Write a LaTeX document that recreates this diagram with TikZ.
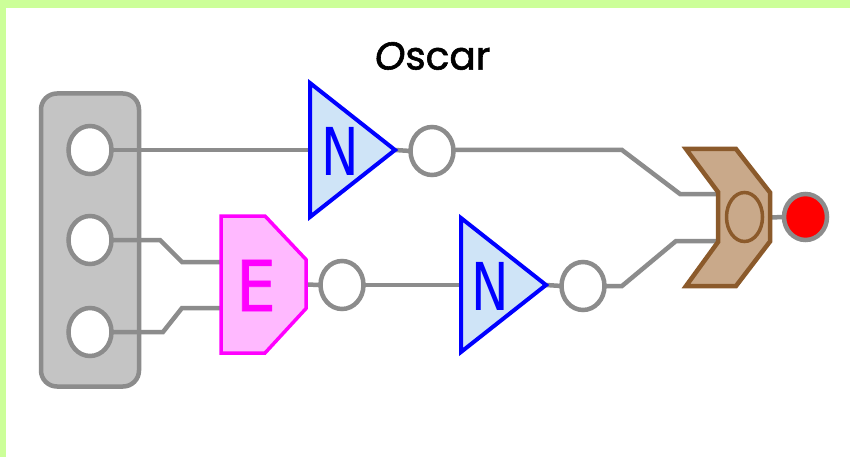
\documentclass[tikz,border=0pt]{standalone}
\usepackage{fontspec}
\usepackage{graphicx}
\setmainfont{DejaVu Sans}
\newfontfamily\titlefont[FakeBold=1.5]{Poppins}
\newfontfamily\gatefont[FakeBold=1]{DejaVu Sans}
\usetikzlibrary{shapes.geometric,calc}
\definecolor{bordergreen}{HTML}{CCFF99}
\definecolor{wiregray}{HTML}{8C8C8C}
\definecolor{panelgray}{HTML}{C4C4C4}
\definecolor{notfill}{HTML}{CFE4F7}
\definecolor{andfill}{HTML}{FFB9FF}
\definecolor{andline}{HTML}{FF00FF}
\definecolor{orfill}{HTML}{C9A98A}
\definecolor{orline}{HTML}{8B5A2B}
\tikzset{
  wire/.style={draw=wiregray,line width=4.5pt,line join=miter},
  port/.style={ellipse,draw=wiregray,line width=4.5pt,fill=white,inner sep=0pt,outer sep=0pt,minimum width=43pt,minimum height=48pt},
  gatebox/.style={rectangle,inner sep=0pt,outer sep=0pt},
  notgate/.style={draw=blue,fill=notfill,line width=4pt,line join=miter},
  andgate/.style={draw=andline,fill=andfill,line width=3.5pt,line join=miter},
  orgate/.style={draw=orline,fill=orfill,line width=4.5pt,line join=miter},
  gatelabel/.style={inner sep=0pt,outer sep=0pt}
}
\begin{document}
\begin{tikzpicture}[x=1pt,y=-1pt]
\useasboundingbox (0,0) rectangle (850,457);
\fill[white] (0,0) rectangle (850,457);
\fill[bordergreen] (0,0) rectangle (850,8);
\fill[bordergreen] (0,0) rectangle (6,457);
% panel
\node[rectangle,rounded corners=16pt,draw=wiregray,fill=panelgray,line width=4.5pt,inner sep=0pt,outer sep=0pt,minimum width=98pt,minimum height=293pt] (panel) at (90,240) {};
% node boxes
\node[gatebox,minimum width=85pt,minimum height=134pt] (n1) at (352.5,150) {};
\node[gatebox,minimum width=85pt,minimum height=134pt] (n2) at (503.5,285) {};
\node[gatebox,minimum width=85pt,minimum height=137pt] (e1) at (263.5,284.5) {};
\node[gatebox,minimum width=84pt,minimum height=137pt] (o1) at (728,217.5) {};
\coordinate (oin1) at (720,194);
\coordinate (oin2) at (720,241);
\coordinate (ein1) at (222,262);
\coordinate (ein2) at (222,308);
% ports
\node[port] (p1) at (90,150) {};
\node[port] (p2) at (90,240) {};
\node[port] (p3) at (90,332) {};
\node[port] (c1) at (432,151) {};
\node[port] (c2) at (342,285) {};
\node[port] (c3) at (583,286) {};
\node[port,fill=red,minimum width=43pt,minimum height=46pt] (out) at (805.5,217) {};
% wires
\draw[wire] (p1.east) -- (n1.west);
\draw[wire] (n1.east) -- (c1.west);
\draw[wire] (c1.east |- 0,150) -- (622,150) -- (680,194) -- (oin1);
\draw[wire] (p2.east) -- (160,240) -- (182,262) -- (ein1);
\draw[wire] (p3.east) -- (163,332) -- (182,308) -- (ein2);
\draw[wire] (e1.east) -- (c2.west);
\draw[wire] (c2.east) -- (n2.west);
\draw[wire] (n2.east) -- (c3.west);
\draw[wire] (c3.east) -- (622,286) -- (676,241) -- (oin2);
\draw[wire] (o1.east) -- (out.west);
% gates
\draw[notgate] (n1.north west) -- (n1.east) -- (n1.south west) -- cycle;
\draw[notgate] (n2.north west) -- (n2.east) -- (n2.south west) -- cycle;
\draw[andgate] (e1.north west) -- ($(e1.north west)+(44,0)$) -- ($(e1.east)+(0,-25)$) -- ($(e1.east)+(0,24)$) -- ($(e1.south west)+(44,0)$) -- (e1.south west) -- cycle;
\draw[orgate] (o1.north west) -- ($(o1.north west)+(50,0)$) -- ($(o1.east)+(0,-25)$) -- ($(o1.east)+(0,24)$) -- ($(o1.south west)+(50,0)$) -- (o1.south west) -- (718,242) -- (718,192) -- cycle;
\node[ellipse,draw=orline,line width=3.5pt,inner sep=0pt,outer sep=0pt,minimum width=36pt,minimum height=49pt] (oring) at (744.5,217) {};
% labels
\node[gatelabel,text=blue] (n1t) at (340,151) {\scalebox{0.76}[1]{\fontsize{66}{66}\selectfont N}};
\node[gatelabel,text=blue] (n2t) at (490,286) {\scalebox{0.76}[1]{\fontsize{66}{66}\selectfont N}};
\node[gatelabel,text=andline] (e1t) at (256,285.5) {\scalebox{0.9}[1]{\fontsize{70}{70}\gatefont E}};
\node[gatelabel,text=black] (title) at (432.5,56) {\fontsize{39}{39}\titlefont\textit{O}scar};
\end{tikzpicture}
\end{document}
